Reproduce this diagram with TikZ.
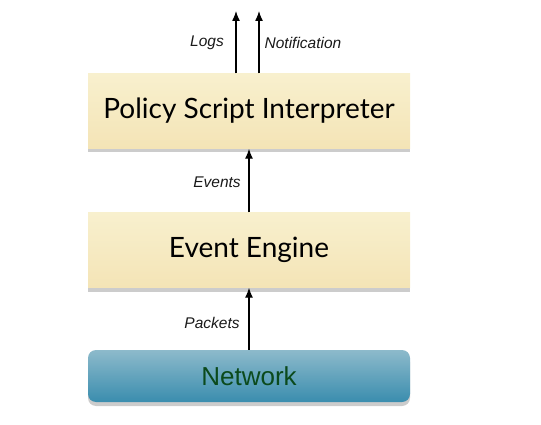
\documentclass[tikz,border=0pt]{standalone}
\usepackage{fontspec}
\setmainfont{Liberation Sans}
\newfontfamily\boxfont{Lato}
\usetikzlibrary{shadows,arrows.meta}

\definecolor{creamtop}{HTML}{F8F0CE}
\definecolor{creambot}{HTML}{F4E4B6}
\definecolor{nettop}{HTML}{8DBACB}
\definecolor{netbot}{HTML}{3A8DAE}
\definecolor{netgreen}{HTML}{0B4A1C}

\tikzset{
  layer/.style={minimum width=322pt, minimum height=75pt, inner sep=0pt,
    top color=creamtop, bottom color=creambot, draw=none,
    drop shadow={shadow xshift=0pt, shadow yshift=-4pt, opacity=0.4},
    font=\boxfont\fontsize{28}{33}\selectfont},
  netbox/.style={minimum width=322pt, minimum height=52pt, inner sep=0pt,
    rounded corners=8pt, top color=nettop, bottom color=netbot, draw=none,
    drop shadow={shadow xshift=0pt, shadow yshift=-4pt, opacity=0.4},
    text=netgreen, font=\fontsize{26}{30}\selectfont},
  lbl/.style={font=\itshape\fontsize{15.5}{18}\selectfont, text=black!90},
  flow/.style={-{Latex[length=10pt,width=8pt]}, line width=1.3pt}
}

\begin{document}
\begin{tikzpicture}[x=1pt, y=-1pt]
\useasboundingbox (0,0) rectangle (541,425);

\path (249,111) node[layer] (psi) {Policy Script Interpreter};
\path (249,250) node[layer] (engine) {Event Engine};
\path (249,376) node[netbox] (net) {Network};

\coordinate (logsEnd) at (236,11);
\coordinate (notifEnd) at (259,11);

\draw [flow] (net.north) -- (engine.south);
\draw [flow] (engine.north) -- (psi.south);
\draw [flow] (psi.north -| logsEnd) -- (logsEnd);
\draw [flow] (psi.north -| notifEnd) -- (notifEnd);

\path (207,43) node[lbl] (logs) {Logs};
\path (303,43) node[lbl] (notif) {Notification};
\path (217,182) node[lbl] (events) {Events};
\path (212,323) node[lbl] (packets) {Packets};

\end{tikzpicture}
\end{document}
